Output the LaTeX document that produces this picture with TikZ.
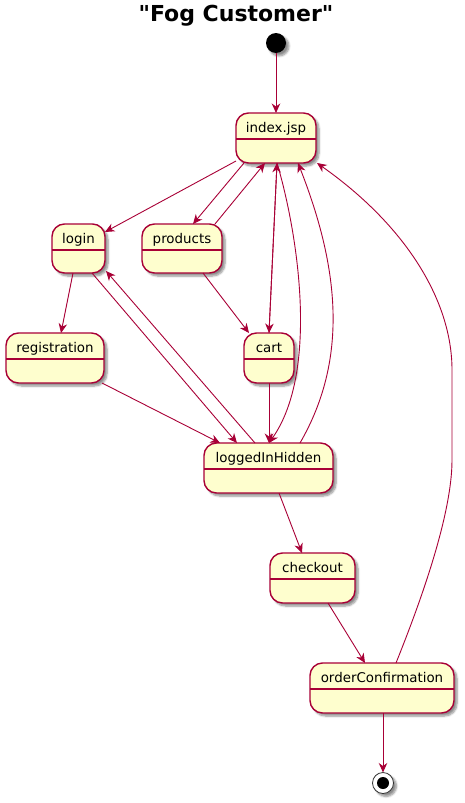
\documentclass[tikz,border=0pt]{standalone}
\usepackage{fontspec}
\setmainfont{DejaVu Sans}[Ligatures=TeXOff]
\usetikzlibrary{arrows.meta,calc,shadows,shadows.blur}
\definecolor{umlred}{HTML}{A80036}
\definecolor{umlfill}{HTML}{FEFECE}
\tikzset{
  myshadow/.style={blur shadow={shadow xshift=3pt, shadow yshift=-3pt, shadow blur radius=2pt, shadow blur steps=6, shadow opacity=45}},
  stbox/.style={draw=umlred, fill=umlfill, rounded corners=12.5pt, line width=1.4pt,
    inner sep=0pt, outer sep=0pt, myshadow},
  stline/.style={draw=umlred, line width=1.4pt},
  sttext/.style={anchor=base, inner sep=0pt, font=\fontsize{13.4}{16}\selectfont},
  arr/.style={draw=umlred, line width=0.9pt, -{Stealth[length=9.5pt,width=8.5pt,inset=3pt]}},
}
\newcommand\mkstate[6]{%
  \node[stbox, minimum width={(#4-#2)*1pt}, minimum height={(#5-#3)*1pt}] (#1) at ({(#2+#4)/2},{(#3+#5)/2}) {};
  \draw[stline] ($(#1.north west)+(0,26)$) -- ($(#1.north east)+(0,26)$);
  \node[sttext] at ($(#1.north)+(0,19.5)$) {#6};
}
\begin{document}
\begin{tikzpicture}[x=1pt,y=-1pt]
\useasboundingbox (0,0) rectangle (465,803);
% title
\node[font=\bfseries\fontsize{22}{26}\selectfont, anchor=base, inner sep=0pt] (title) at (236,21) {"Fog Customer"};
% start / end
\node[circle, fill=black, minimum size=20pt, inner sep=0pt, myshadow] (start) at (276,43) {};
\node[circle, draw=black!80, fill=white, line width=0.8pt, minimum size=21pt, inner sep=0pt, outer sep=0pt, myshadow] (end) at (383,783) {};
\node[circle, fill=black, minimum size=12pt, inner sep=0pt] (endin) at (end.center) {};
% states
\mkstate{index}{236}{113}{316}{163}{index.jsp}
\mkstate{login}{52}{224}{105}{273}{login}
\mkstate{products}{142}{224}{222}{273}{products}
\mkstate{reg}{6}{333}{104}{383}{registration}
\mkstate{cart}{244}{333}{294}{383}{cart}
\mkstate{lih}{204}{443}{333}{493}{loggedInHidden}
\mkstate{checkout}{270}{553}{355}{603}{checkout}
\mkstate{oc}{310}{663}{454}{713}{orderConfirmation}
% edges
\draw[arr] (start.south) -- (index.north);
\draw[arr] ($(index.south west)+(0,-2)$) -- ($(login.north east)+(0,8)$);
\draw[arr] ($(index.south)+(-32,0)$) -- ($(products.north)+(11,0)$);
\draw[arr] ($(products.north)+(33,0)$) -- ($(index.south)+(-11,0)$);
\draw[arr] ($(index.south)+(1,0)$) -- (cart.north);
\draw[arr] (cart.north) -- ($(index.south)+(1,0)$);
\draw[arr] ($(index.south)+(1,0)$) .. controls (297,230) and (320,370) .. ($(lih.north)+(0.5,0)$);
\draw[arr] ($(lih.north)+(31.5,0)$) .. controls (348,360) and (340,270) .. ($(index.south)+(22,0)$);
\draw[arr] ($(oc.north)+(14,0)$) .. controls (414,618) and (452,520) .. (452,460) -- (452,370) .. controls (452,300) and (405,225) .. ($(index.south east)+(1,0)$);
\draw[arr] ($(login.south)+(-5.5,0)$) -- ($(reg.north)+(6,0)$);
\draw[arr] ($(login.south)+(13.5,0)$) -- ($(lih.north)+(-31.5,0)$);
\draw[arr] ($(lih.north)+(-13.5,0)$) -- ($(login.south east)+(1,-2)$);
\draw[arr] ($(reg.south east)+(-2,0)$) -- ($(lih.north)+(-48.5,0)$);
\draw[arr] ($(products.south)+(21,0)$) -- ($(cart.north)+(-20,0)$);
\draw[arr] (cart.south) -- ($(lih.north)+(0.5,0)$);
\draw[arr] ($(lih.south)+(10.5,0)$) -- ($(checkout.north)+(-10.5,0)$);
\draw[arr] ($(checkout.south)+(15.5,0)$) -- ($(oc.north)+(-17,0)$);
\draw[arr] ($(oc.south)+(1,0)$) -- (end.north);
\end{tikzpicture}
\end{document}
